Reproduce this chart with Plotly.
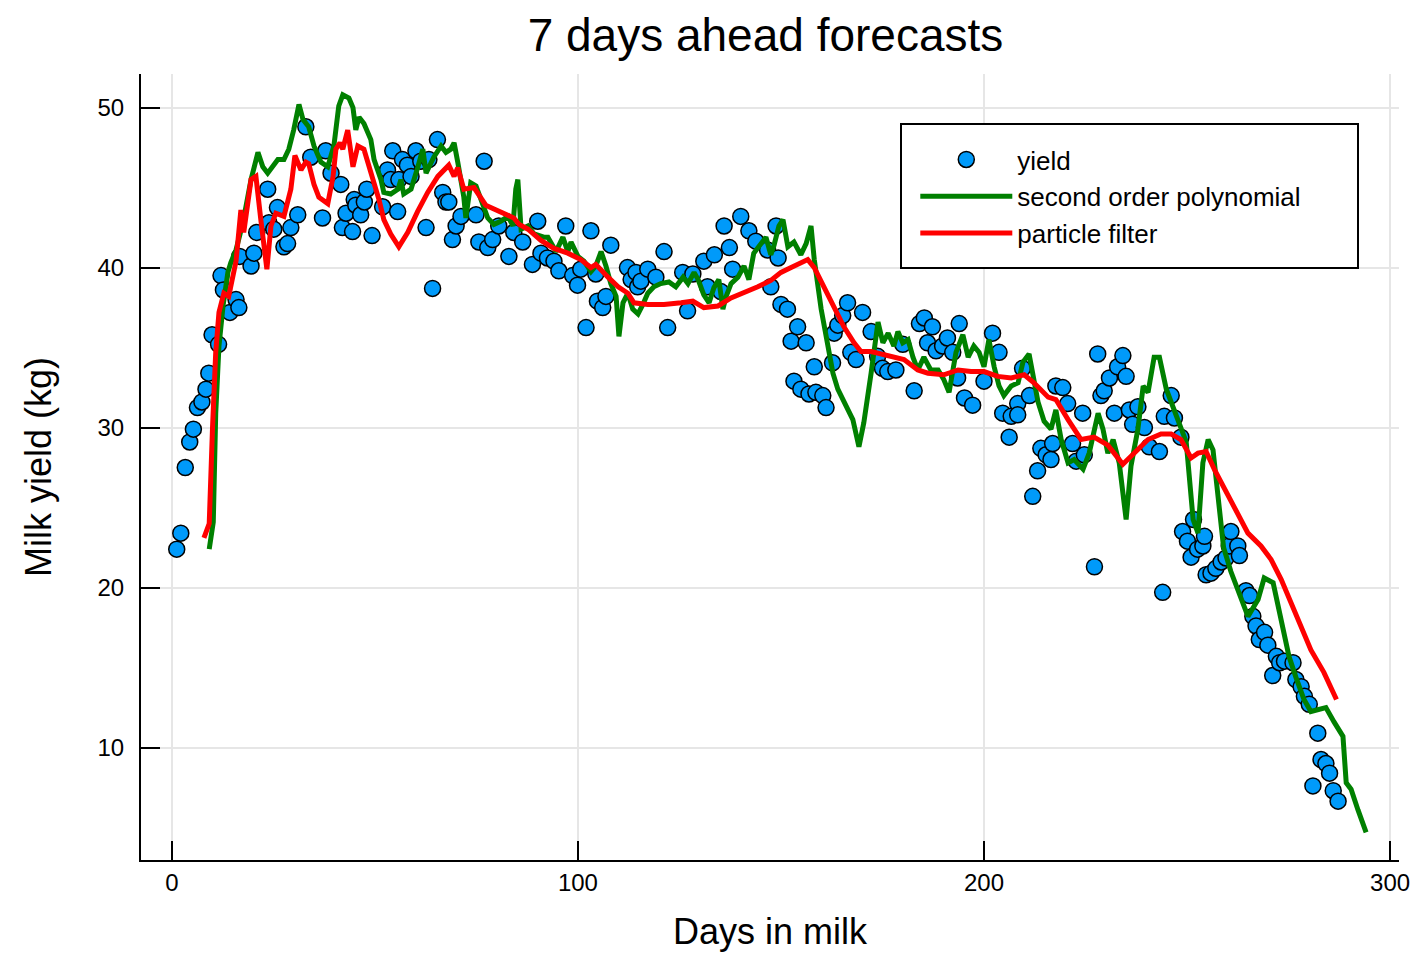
import plotly.graph_objects as go

# ---------------- data ----------------
yield_day = [1.2, 2.2, 3.3, 4.4, 5.3, 6.3, 7.4, 8.4, 9.1, 9.9, 11.5, 12.1, 12.7, 14.3, 15.8, 16.5, 16.7,
             19.5, 20.2, 20.9, 23.6, 23.9, 25.1, 26.0, 27.6, 28.5, 29.3, 31.0, 33.0, 34.2, 37.1, 37.9,
             39.2, 41.6, 42.0, 42.9, 44.5, 44.9, 45.3, 46.5, 47.4, 48.0, 49.3, 51.9, 53.1, 53.9, 54.4,
             55.6, 55.9, 56.8, 58.0, 58.9, 60.1, 61.3, 62.6, 63.3, 64.2, 65.4, 66.7, 67.5, 68.2, 69.1,
             70.0, 71.2, 74.9, 75.6, 76.9, 77.8, 79.0, 80.5, 83.0, 84.2, 86.4, 88.8, 90.1, 90.9, 92.5,
             94.1, 95.3, 97.0, 98.7, 99.9, 100.7, 102.0, 103.2, 104.4, 104.8, 106.1, 106.9, 108.1,
             112.2, 113.1, 114.3, 114.7, 115.5, 117.2, 119.2, 121.2, 122.1, 125.8, 127.0, 128.3,
             131.0, 131.9, 133.6, 135.2, 136.0, 137.3, 138.1, 140.1, 142.1, 143.8, 146.7, 147.5,
             148.8, 149.3, 150.0, 151.6, 152.5, 154.1, 153.2, 154.9, 156.2, 156.9, 158.2, 158.6,
             160.3, 161.1, 162.7, 163.1, 164.0, 165.2, 166.4, 167.2, 168.5, 170.1, 172.2, 173.8,
             175.0, 176.3, 178.3, 180.0, 182.8, 184.1, 185.3, 186.1, 187.3, 188.2, 189.8, 191.0,
             192.3, 193.5, 193.9, 195.2, 197.2, 200.0, 202.1, 203.7, 204.6, 206.2, 206.7, 208.3,
             208.3, 209.5, 211.2, 212.0, 213.2, 214.0, 215.3, 216.5, 216.9, 217.7, 219.4, 220.6,
             221.8, 222.7, 224.3, 224.7, 227.2, 228.0, 228.8, 229.6, 230.9, 232.1, 232.9, 234.2,
             235.0, 235.8, 236.6, 237.9, 239.5, 240.7, 243.2, 244.0, 244.4, 246.1, 246.9, 248.5,
             248.9, 250.1, 251.0, 251.6, 252.6, 253.9, 254.3, 254.7, 255.9, 257.1, 258.4, 259.6,
             260.4, 260.8, 262.5, 262.9, 264.5, 265.4, 266.2, 267.0, 267.8, 269.1, 269.9, 271.1,
             272.0, 272.8, 274.0, 276.1, 276.8, 278.1, 278.9, 280.1, 281.0, 282.2, 283.0, 284.2,
             285.1, 286.0, 287.2]
yield_kg = [22.4, 23.4, 27.5, 29.1, 29.9, 31.25, 31.6, 32.4, 33.4, 35.8, 35.2, 39.5, 38.6, 37.2, 38.0, 37.5, 40.7,
            40.1, 40.9, 42.2, 44.9, 42.8, 42.4, 43.75, 41.3, 41.5, 42.5, 43.3, 48.8, 46.9, 43.1, 47.3,
            45.9, 45.2, 42.5, 43.4, 42.25, 44.25, 43.9, 43.3, 44.1, 44.9, 42.0, 43.8, 46.1, 45.5, 47.3,
            43.5, 45.5, 46.75, 46.4, 45.7, 47.3, 46.65, 42.5, 46.75, 38.7, 48.0, 44.7, 44.1, 44.1, 41.75,
            42.6, 43.2, 43.3, 41.6, 46.65, 41.25, 41.75, 42.6, 40.7, 42.2, 41.6, 40.2, 42.9, 40.9, 40.6,
            40.4, 39.8, 42.6, 39.5, 38.9, 39.9, 36.25, 42.3, 39.6, 37.9, 37.5, 38.2, 41.4,
            40.0, 39.25, 39.7, 38.8, 39.15, 39.9, 39.4, 41.0, 36.25, 39.7, 37.3, 39.6,
            40.4, 38.8, 40.8, 38.5, 42.6, 41.25, 39.9, 43.2, 42.3, 41.65, 41.1, 38.8,
            42.6, 40.6, 37.7, 37.4, 35.4, 36.3, 32.9, 32.4, 35.3, 32.1, 33.8, 32.2,
            32.0, 31.25, 34.05, 35.9, 36.4, 37.0, 37.8, 34.7, 34.25, 37.2, 36.0, 34.45,
            33.7, 33.5, 33.6, 35.2, 32.3, 36.5, 36.85, 35.3, 36.3, 34.8, 35.1, 35.6,
            34.7, 33.1, 36.5, 31.85, 31.4, 32.9, 35.9, 34.7, 30.9, 29.4, 30.7, 31.5,
            30.8, 33.7, 32.0, 25.7, 27.3, 28.7, 28.3, 28.0, 29.0, 32.6, 32.5, 31.5,
            29.0, 27.9, 30.9, 28.3, 21.3, 34.6, 32.0, 32.3, 33.1, 30.9, 33.8, 34.5,
            33.2, 31.1, 30.2, 31.3, 30.0, 28.8, 28.5, 19.7, 30.7, 32.0, 30.6, 29.4,
            23.5, 22.9, 21.9, 24.25, 22.4, 22.6, 23.2, 20.8, 20.9, 21.2, 21.6, 21.85,
            22.6, 23.5, 22.6, 22.0, 19.8, 19.5, 18.2, 17.6, 16.75, 17.2, 16.4, 14.5,
            15.7, 15.3, 15.4, 15.3, 14.25, 13.8, 13.2, 12.7, 7.6, 10.9, 9.25, 9.0,
            8.4, 7.3, 6.65]

poly_day = [9.2, 10.2, 10.8, 11.6, 12.6, 13.8, 14.5, 15.8, 17.5, 19.5, 21.2, 22.4, 23.6, 24.9, 26.1, 27.6,
            28.8, 30.0, 31.3, 32.3, 33.7, 35.0, 36.7, 38.4, 39.9, 41.1, 42.1, 43.6, 44.6, 45.3, 46.1,
            47.3, 49.0, 49.8, 51.5, 52.2, 53.9, 55.7, 56.4, 57.1, 58.9, 60.6, 61.8, 62.6, 63.3, 64.5,
            66.3, 67.5, 68.7, 69.5, 70.4, 71.2, 71.9, 72.4, 72.9, 73.6, 74.9, 76.1, 77.8, 79.3, 81.0,
            82.8, 84.0, 84.7, 85.2, 86.0, 87.7, 89.2, 91.6, 92.6, 94.6, 96.3, 97.5, 98.3, 100.0, 101.5,
            103.2, 104.4, 105.7, 106.9, 108.1, 109.4, 110.1, 111.1, 112.3, 113.5, 114.8, 116.0, 117.2,
            118.7, 120.4, 122.4, 124.1, 125.9, 127.1, 128.6, 129.6, 131.0, 132.3, 133.5, 134.7, 135.7,
            136.5, 137.7, 139.4, 140.9, 142.1, 143.3, 144.6, 146.3, 147.5, 148.3, 149.5, 150.5, 151.7,
            153.2, 154.9, 156.2, 157.4, 158.2, 159.9, 161.6, 162.8, 164.0, 165.5, 167.7, 169.2, 170.4,
            172.2, 173.9, 175.1, 176.4, 177.8, 178.8, 180.0, 181.3, 182.5, 183.7, 185.2, 186.9, 188.7,
            190.1, 191.4, 193.1, 194.8, 196.1, 197.5, 198.8, 200.0, 201.2, 202.5, 203.7, 204.9, 206.7,
            208.4, 209.6, 211.1, 212.1, 213.3, 214.8, 216.5, 217.7, 219.0, 220.7, 222.2, 224.4, 225.9,
            228.1, 229.3, 230.5, 231.8, 233.3, 235.0, 236.2, 237.9, 239.2, 240.4, 241.9, 243.2, 244.9,
            246.6, 248.5, 249.8, 251.5, 252.7, 253.9, 255.2, 256.4, 257.6, 259.0, 260.8, 262.8, 265.0,
            267.5, 269.0, 271.2, 273.2, 275.1, 276.8, 278.8, 280.5, 282.3, 284.2, 286.2, 288.4, 289.2,
            290.4, 292.1, 294.1]
poly_kg = [22.4, 24.1, 30.9, 35.1, 37.6, 39.7, 40.3, 41.1, 42.8, 45.5, 47.2, 46.3, 45.9, 46.4, 46.75, 46.75,
           47.4, 48.6, 50.2, 49.25, 48.8, 47.6, 46.6, 46.3, 47.6, 50.1, 50.8, 50.6, 50.0, 48.6, 49.4,
           49.0, 48.0, 46.75, 45.5, 44.7, 44.6, 44.9, 45.5, 44.6, 44.9, 46.3, 47.4, 45.9, 46.3, 46.9,
           47.6, 47.2, 47.4, 47.8, 46.6, 45.5, 44.4, 43.1, 44.1, 45.3, 45.1, 44.25, 43.1, 42.7, 42.9,
           43.2, 42.6, 44.9, 45.5, 42.4, 42.6, 42.1, 41.9, 41.9, 41.0, 41.9, 41.0, 41.6, 40.7, 40.4,
           39.75, 40.1, 41.0, 40.1, 39.0, 38.2, 35.7, 37.8, 38.4, 37.4, 37.1, 37.7, 38.4,
           38.8, 39.0, 39.1, 38.8, 39.4, 39.0, 39.7, 39.25, 38.3, 37.8, 38.75, 39.25, 37.4,
           38.2, 39.0, 39.4, 40.1, 39.25, 40.9, 41.3, 41.9, 40.8, 41.4, 42.6, 43.0, 41.3,
           41.6, 40.8, 41.5, 42.6, 40.5, 37.4, 34.9, 33.4, 32.4, 31.6, 30.5, 28.8, 30.3,
           33.4, 36.6, 35.3, 35.9, 35.1, 36.0, 35.3, 35.5, 34.4, 33.6, 34.4, 33.6, 33.6,
           33.0, 32.2, 34.7, 35.8, 34.4, 35.1, 34.7, 33.8, 35.5, 33.8, 32.6, 32.0, 32.6,
           32.8, 34.1, 34.6, 33.4, 31.6, 30.4, 29.9, 31.1, 29.25, 27.8, 28.0, 27.4, 28.4,
           30.9, 29.9, 28.4, 29.25, 27.8, 24.25, 27.6, 29.9, 32.6, 32.2, 34.4, 34.4, 32.4,
           31.3, 29.9, 29.1, 24.25, 23.4, 27.8, 29.25, 28.6, 26.0, 22.5, 21.0, 19.6, 18.2,
           19.25, 20.6, 20.3, 18.0, 15.7, 14.4, 13.0, 12.25, 12.4, 12.5, 11.6, 10.7, 7.8,
           7.4, 6.1, 4.7]

pf_day = [7.9, 9.2, 10.0, 10.8, 11.6, 12.8, 14.0, 15.8, 17.0, 17.7, 19.5, 20.7, 21.9, 23.4, 24.4, 25.6,
          27.6, 29.3, 30.3, 31.8, 33.0, 33.7, 35.0, 36.2, 38.4, 39.7, 40.4, 41.4, 42.1, 43.3, 44.6,
          45.8, 47.3, 48.5, 49.8, 51.0, 52.2, 53.9, 55.9, 58.1, 60.5, 63.0, 65.5, 68.2, 69.5, 70.4,
          71.9, 74.4, 77.3, 81.0, 84.2, 85.5, 87.7, 90.9, 94.1, 97.5, 100.7, 103.2, 104.4, 107.4,
          109.9, 112.3, 113.8, 117.2, 121.2, 125.4, 128.3, 131.0, 134.5, 137.7, 140.9, 144.3, 147.5,
          150.0, 152.5, 154.9, 156.6, 158.2, 160.6, 163.1, 165.5, 168.0, 169.7, 172.2, 174.6, 177.8,
          180.3, 183.7, 186.2, 190.1, 193.6, 196.8, 200.0, 203.4, 206.7, 209.9, 212.3, 215.8, 217.7,
          220.7, 223.9, 227.1, 230.5, 234.2, 236.9, 240.4, 243.6, 246.1, 248.5, 251.0, 252.7, 254.7,
          256.7, 260.1, 262.5, 265.0, 268.2, 270.7, 273.2, 275.6, 278.1, 280.5, 283.7, 286.8]
pf_kg = [23.1, 24.0, 29.9, 34.7, 37.2, 38.4, 38.2, 40.4, 43.6, 42.2, 45.5, 45.7, 43.0, 39.9, 42.6, 43.4,
         43.2, 44.9, 47.0, 46.1, 46.6, 46.5, 45.2, 44.4, 44.0, 45.7, 47.4, 47.8, 47.4, 48.6, 46.3,
         47.6, 47.4, 46.4, 45.5, 44.25, 43.0, 42.1, 41.3, 42.2, 43.5, 44.7, 45.7, 46.4, 45.7, 46.25,
         44.9, 45.0, 43.9, 43.5, 43.1, 42.7, 42.4, 41.7, 41.2, 40.9, 40.5, 40.0, 40.2, 39.4,
         38.8, 38.4, 37.8, 37.7, 37.7, 37.8, 37.9, 37.5, 37.6, 38.1, 38.4, 38.8, 39.2,
         39.7, 40.0, 40.25, 40.5, 40.0, 38.8, 37.6, 36.3, 35.3, 34.75, 34.75, 34.6, 34.45,
         34.25, 33.6, 33.4, 33.3, 33.6, 33.5, 33.5, 33.2, 33.1, 33.3, 32.8, 31.9, 31.75,
         30.5, 29.25, 29.4, 28.9, 27.7, 28.4, 29.25, 29.6, 29.6, 29.25, 28.1, 28.4, 28.5,
         27.4, 25.7, 24.6, 23.4, 22.6, 21.75, 20.5, 19.1, 17.6, 16.1, 14.7, 13.0]

x_ticks = [0, 100, 200, 300]
y_ticks = [10, 20, 30, 40, 50]

FONT = "Liberation Sans, Arial, Helvetica, sans-serif"

# page body has an 8px margin, so the figure is sized to end at the window edge
W, H = 1411, 945
L, T, R, B = 133, 66, 20, 93
PW = W - L - R   # 1258
PH = H - T - B   # 786

fig = go.Figure()
fig.add_trace(go.Scatter(
    x=yield_day, y=yield_kg, mode="markers", name="yield",
    marker=dict(size=16, color="#009AFA", line=dict(color="black", width=1.5)),
))
fig.add_trace(go.Scatter(
    x=poly_day, y=poly_kg, mode="lines", name="second order polynomial",
    line=dict(color="rgb(0,128,0)", width=5),
))
fig.add_trace(go.Scatter(
    x=pf_day, y=pf_kg, mode="lines", name="particle filter",
    line=dict(color="rgb(255,0,0)", width=5),
))

axis_common = dict(
    showgrid=True, gridcolor="#e6e6e6", gridwidth=1.5,
    zeroline=False, showline=True, linecolor="black", linewidth=2,
    ticks="inside", ticklen=19, tickwidth=1.5, tickcolor="black",
    tickfont=dict(family=FONT, size=24, color="black"),
    mirror=False, automargin=False,
)

fig.update_layout(
    width=W, height=H,
    margin=dict(l=L, r=R, t=T, b=B, autoexpand=False),
    paper_bgcolor="white", plot_bgcolor="white",
    title=dict(text="7 days ahead forecasts", x=0.4964, xref="paper", y=1 - 27 / H,
               yref="container", xanchor="center", yanchor="middle",
               font=dict(family=FONT, size=46, color="black")),
    xaxis=dict(range=[-7.6, 302.2], tickvals=x_ticks,
               title=dict(text="Days in milk", font=dict(family=FONT, size=36, color="black"), standoff=24),
               ticklabelstandoff=0, **axis_common),
    yaxis=dict(range=[2.97, 52.1], tickvals=y_ticks,
               title=dict(text="Milk yield (kg)", font=dict(family=FONT, size=36, color="black"), standoff=35),
               ticklabelstandoff=10, **axis_common),
    legend=dict(x=0.6155, y=0.921, xanchor="left", yanchor="top",
                bgcolor="rgba(255,255,255,0)", borderwidth=0,
                font=dict(family=FONT, size=26, color="black"),
                itemwidth=92, tracegroupgap=0),
    showlegend=True,
)

fig.add_shape(type="rect", xref="paper", yref="paper",
              x0=(901 - 141) / PW, x1=(1358 - 141) / PW,
              y0=(860 - 268) / PH, y1=(860 - 124) / PH,
              line=dict(color="black", width=2), fillcolor="white", layer="above")

fig.write_html("out.html")
